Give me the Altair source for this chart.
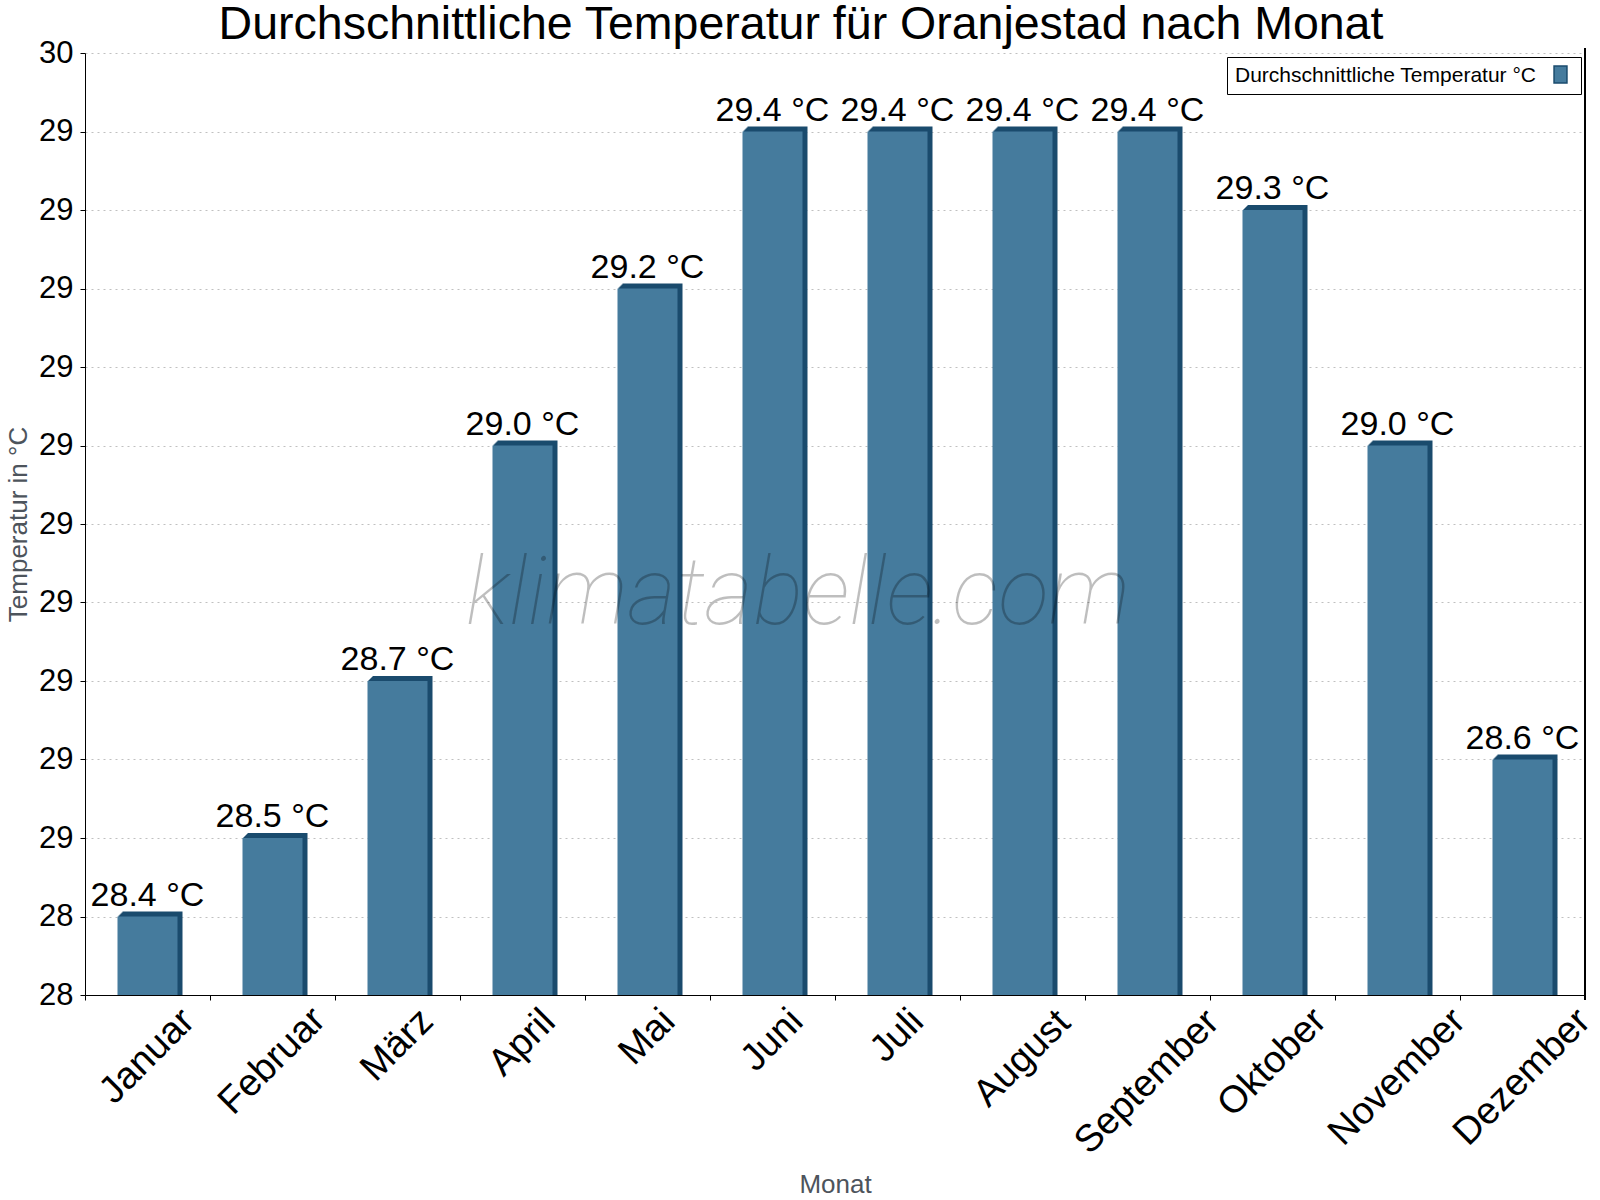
import altair as alt
import pandas as pd

# --- data -----------------------------------------------------------------
MONTHS = ["Januar", "Februar", "März", "April", "Mai", "Juni", "Juli",
          "August", "September", "Oktober", "November", "Dezember"]
TEMPS = [28.4, 28.5, 28.7, 29.0, 29.2, 29.4, 29.4, 29.4, 29.4, 29.3, 29.0, 28.6]
SERIES = "Durchschnittliche Temperatur °C"
Y_TICKS = [28.3, 28.4, 28.5, 28.6, 28.7, 28.8, 28.9, 29.0, 29.1, 29.2, 29.3, 29.4, 29.5]
WATERMARK = ["klimatabelle.com"]

TITLE = "Durchschnittliche Temperatur für Oranjestad nach Monat"
X_TITLE = "Monat"
Y_TITLE = "Temperatur in °C"

# --- styling --------------------------------------------------------------
FRONT = "#457b9d"
SIDE = "#1a4b6d"
FONT = "Liberation Sans"
GREY = "#4d545c"
W, H = 1500, 942
MONTH_FS = 38

df = pd.DataFrame({"month": MONTHS, "temp": TEMPS, "series": SERIES})
df["base"] = Y_TICKS[0]

x_scale = alt.Scale(domain=MONTHS, paddingInner=0, paddingOuter=0)
y_scale = alt.Scale(domain=[Y_TICKS[0], Y_TICKS[-1]], zero=False, nice=False)


def n_chars(chars):
    return f"length(replace(datum.month, regexp('[^{chars}]', 'g'), ''))"


# rough width of a month name in em (Arial metrics)
em = (f"(0.556*length(datum.month) + 0.28*{n_chars('mM')}"
      f" + 0.17*{n_chars('DNOAS')} - 0.33*{n_chars('il')}"
      f" - 0.25*{n_chars('rtf')} - 0.05*{n_chars('zsvkJ')})")

x_axis = alt.Axis(
    title=X_TITLE, titleFont=FONT, titleFontSize=26, titleFontWeight="normal",
    titleColor=GREY, titleX=W / 2, titleY=197, titleBaseline="alphabetic",
    labels=False, bandPosition=0, tickSize=5, tickColor="#000",
    domainColor="#000", grid=False,
)
y_axis = alt.Axis(
    values=Y_TICKS, tickCount=20,
    labelExpr="format(round(datum.value), 'd')",
    title=Y_TITLE, titleFont=FONT, titleFontSize=26, titleFontWeight="normal",
    titleColor=GREY, titleAngle=-90, titleX=-59, titleY=H / 2,
    titleAlign="center", titleBaseline="alphabetic",
    labelFont=FONT, labelFontSize=31, labelColor="#000", labelPadding=7,
    tickSize=5, tickColor="#000", domainColor="#000",
    grid=True, gridColor="#c0c0c0", gridDash=[2, 4],
)

x_plain = alt.X("month:N", sort=MONTHS, scale=x_scale, axis=None)
y_plain = alt.Y("temp:Q", scale=y_scale, axis=None)

base = alt.Chart(df)

# dark side/top faces: stacked copies shifted up-right give a bevelled edge
shadows = [
    base.mark_bar(color=SIDE, width={"band": 0.48}, xOffset=k, yOffset=-k)
    .encode(x=x_plain, y=y_plain, y2="base:Q")
    for k in range(1, 6)
]

front = base.mark_bar(width={"band": 0.48}).encode(
    x=alt.X("month:N", sort=MONTHS, scale=x_scale, axis=x_axis),
    y=alt.Y("temp:Q", scale=y_scale, axis=y_axis),
    y2="base:Q",
    color=alt.Color(
        "series:N",
        scale=alt.Scale(domain=[SERIES], range=[FRONT]),
        legend=alt.Legend(
            title=SERIES, titleOrient="left", titleAnchor="middle",
            titleBaseline="middle", titleFont=FONT, titleFontSize=21,
            titleFontWeight="normal", titleColor="#000", titlePadding=14,
            titleLimit=800, labelExpr="''", labelOffset=3,
            orient="top-right", offset=4, padding=8,
            strokeColor="#000", fillColor="#fff",
            symbolType="M-0.76,-1L0.76,-1L0.76,1L-0.76,1Z", symbolSize=289,
            symbolStrokeColor=SIDE, symbolStrokeWidth=1.5, symbolOpacity=1,
        ),
    ),
)

# closing line on the right-hand side of the plot, running down past the axis
right_edge = alt.Chart(df).mark_rule(
    color="#000", strokeWidth=1, yOffset=5, y2Offset=-5
).encode(
    x=alt.X(datum=MONTHS[-1], type="nominal", bandPosition=1,
            scale=x_scale, axis=None),
    y=alt.Y(datum=Y_TICKS[0], type="quantitative", scale=y_scale, axis=None),
    y2=alt.Y2(datum=Y_TICKS[-1]),
)

values = base.mark_text(
    font=FONT, fontSize=34, baseline="alphabetic", dy=-11, color="#000"
).encode(
    x=x_plain, y=y_plain, text="label:N"
).transform_calculate(label="format(datum.temp, '.1f') + ' °C'")

# month names, rotated; the top of each name sits just below the axis
months = base.mark_text(
    font=FONT, fontSize=MONTH_FS, angle=315, align="center",
    baseline="middle", color="#000",
).encode(
    x=x_plain,
    y=alt.Y("ly:Q", scale=None, axis=None),
    text="month:N",
).transform_calculate(
    ly=f"{H} + 11 + 0.354*({MONTH_FS}*{em} + {0.72 * MONTH_FS})"
)

watermark = alt.Chart(pd.DataFrame({"t": WATERMARK})).mark_text(
    font="Roboto", fontSize=94, fontStyle="italic", fontWeight=100,
    color="#000", opacity=0.25, align="center", baseline="alphabetic",
).encode(text="t:N", x=alt.value(713), y=alt.value(571))

chart = alt.layer(
    *shadows, front, right_edge, values, months, watermark
).resolve_axis(
    x="independent", y="independent"
).properties(
    width=W, height=H,
    padding={"left": 85, "top": 53, "right": 15, "bottom": 205},
    autosize=alt.AutoSizeParams(type="none"),
    title=alt.Title(TITLE, font=FONT, fontSize=46.5, fontWeight="normal",
                    color="#000", anchor="middle", dx=-34, dy=17, offset=6),
).configure_view(stroke=None)

chart.save("out.html", embed_options={"renderer": "svg", "actions": False})
